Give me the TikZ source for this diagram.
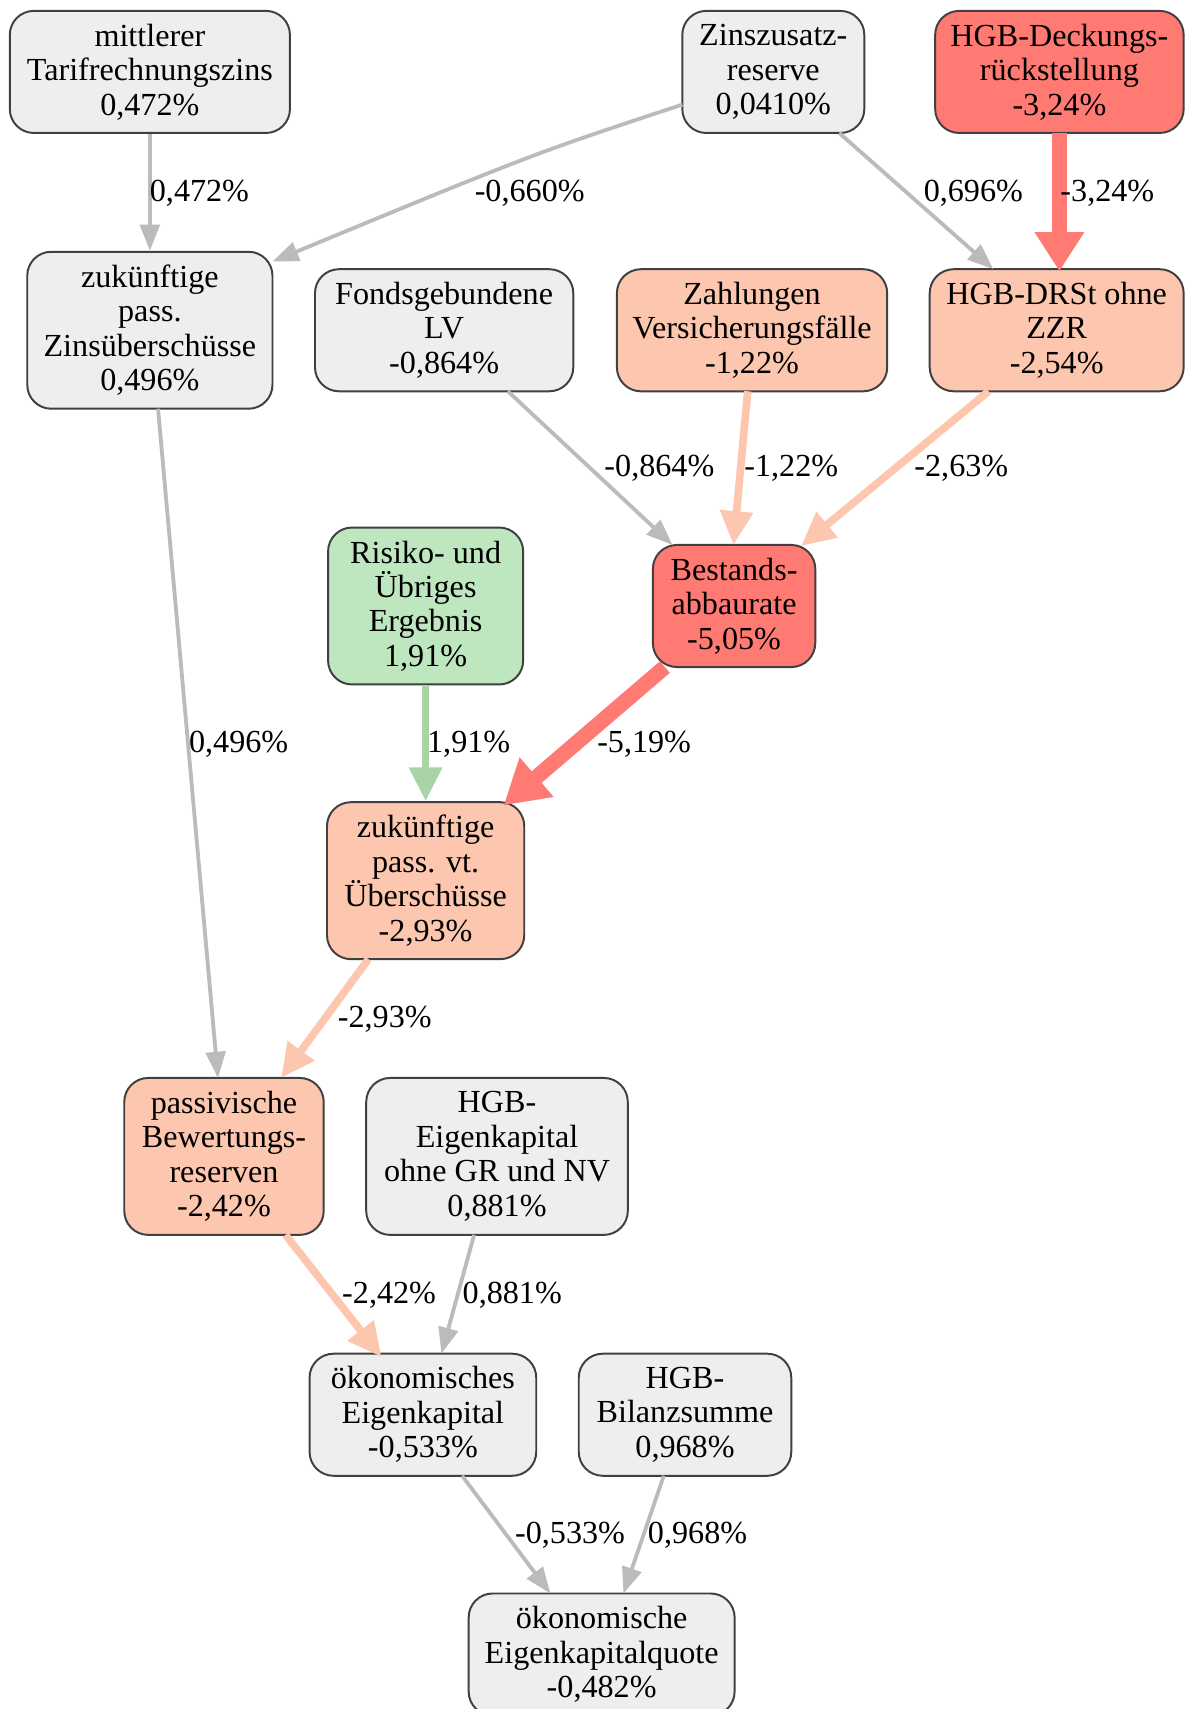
\documentclass[tikz,border=0pt]{standalone}
\usepackage{fontspec}
\setmainfont{Liberation Serif}
\usetikzlibrary{arrows.meta,calc}
\definecolor{ngrey}{RGB}{238,238,238}
\definecolor{nred}{RGB}{255,122,114}
\definecolor{nsalmon}{RGB}{253,198,175}
\definecolor{ngreen}{RGB}{190,230,191}
\definecolor{nborder}{RGB}{64,64,64}
\definecolor{egrey}{RGB}{187,187,187}
\definecolor{ered}{RGB}{255,122,114}
\definecolor{esalmon}{RGB}{253,198,175}
\definecolor{egreen}{RGB}{168,212,168}
\begin{document}
\begin{tikzpicture}[x=1pt,y=-1pt,
  box/.style={draw=nborder,line width=1.8pt,rounded corners=22pt,align=center,inner sep=0pt,
    font=\fontsize{29.5}{31.6}\selectfont},
  gbox/.style={box,fill=ngrey},
  rbox/.style={box,fill=nred},
  sbox/.style={box,fill=nsalmon},
  grbox/.style={box,fill=ngreen},
  lab/.style={inner sep=0pt,font=\fontsize{29.5}{31.6}\selectfont},
  eg/.style={draw=egrey,line width=3.5pt,-{Triangle[width=18pt,length=24pt]}},
  es/.style={draw=esalmon,line width=7pt,-{Triangle[width=29pt,length=31pt]}},
  egr/.style={draw=egreen,line width=7pt,-{Triangle[width=29pt,length=31pt]}},
  er/.style={draw=ered,line width=13pt,-{Triangle[width=43pt,length=36pt]}},
  erx/.style={draw=ered,line width=14pt,-{Triangle[width=45pt,length=40pt]}},
]
\useasboundingbox (0,0) rectangle (1088,1568);
\clip (0,0) rectangle (1088,1568);
\fill[white] (0,0) rectangle (1088,1568);

% nodes
\node[gbox,minimum width=257pt,minimum height=112pt] (mtz) at (137.5,66) {mittlerer\\Tarifrechnungszins\\0,472\%};
\node[gbox,minimum width=167pt,minimum height=112pt] (zzr) at (709.5,66) {Zinszusatz-\\reserve\\0,0410\%};
\node[rbox,minimum width=228pt,minimum height=112pt] (drst) at (972,66) {HGB-Deckungs-\\rückstellung\\-3,24\%};
\node[gbox,minimum width=225pt,minimum height=144pt] (zpz) at (137.5,303) {zukünftige\\pass.\\Zinsüberschüsse\\0,496\%};
\node[gbox,minimum width=237pt,minimum height=112pt] (flv) at (407.5,303) {Fondsgebundene\\LV\\-0,864\%};
\node[sbox,minimum width=248pt,minimum height=112pt] (zvf) at (690,303) {Zahlungen\\Versicherungsfälle\\-1,22\%};
\node[sbox,minimum width=233pt,minimum height=112pt] (drso) at (969.5,303) {HGB-DRSt ohne\\ZZR\\-2,54\%};
\node[grbox,minimum width=179pt,minimum height=144pt] (rue) at (390.5,556) {Risiko- und\\Übriges\\Ergebnis\\1,91\%};
\node[rbox,minimum width=149pt,minimum height=112pt] (bar) at (673.5,556) {Bestands-\\abbaurate\\-5,05\%};
\node[sbox,minimum width=181pt,minimum height=144pt] (zvu) at (390.5,808) {zukünftige\\pass. vt.\\Überschüsse\\-2,93\%};
\node[sbox,minimum width=183pt,minimum height=144pt] (pbr) at (205.5,1061) {passivische\\Bewertungs-\\reserven\\-2,42\%};
\node[gbox,minimum width=240pt,minimum height=144pt] (hek) at (456,1061) {HGB-\\Eigenkapital\\ohne GR und NV\\0,881\%};
\node[gbox,minimum width=208pt,minimum height=112pt] (oek) at (388,1298) {ökonomisches\\Eigenkapital\\-0,533\%};
\node[gbox,minimum width=195pt,minimum height=112pt] (hbs) at (628.5,1298) {HGB-\\Bilanzsumme\\0,968\%};
\node[gbox,minimum width=244pt,minimum height=112pt] (oekq) at (552,1518) {ökonomische\\Eigenkapitalquote\\-0,482\%};

% edges
\draw[eg] (mtz.south) -- (zpz.north);
\draw[eg] ($(zzr.center)+(-83.5,30)$) .. controls ($(zzr.center)+(-220,75)$) .. ($(zpz.center)+(112.5,-63)$);
\draw[eg] ($(zzr.center)+(60.5,56)$) -- ($(drso.center)+(-58,-56)$);
\draw[er] ($(drst.center)+(0,56)$) -- ($(drst.center)+(0,183)$);
\draw[eg] ($(zpz.center)+(7.5,72)$) -- ($(pbr.center)+(-5.5,-72)$);
\draw[eg] ($(flv.center)+(58.5,56)$) -- ($(bar.center)+(-56.5,-56)$);
\draw[es] ($(zvf.center)+(-4,56)$) -- ($(bar.center)+(-0.5,-56)$);
\draw[es] ($(drso.center)+(-62.5,56)$) -- ($(bar.center)+(61.5,-55)$);
\draw[egr] (rue.south) -- (zvu.north);
\draw[erx] ($(bar.center)+(-63.5,56)$) -- ($(zvu.center)+(71.5,-69)$);
\draw[es] ($(zvu.center)+(-52.5,72)$) -- ($(pbr.center)+(52.5,-72)$);
\draw[es] ($(pbr.center)+(56.5,72)$) -- ($(oek.center)+(-38,-53)$);
\draw[eg] ($(hek.center)+(-21,72)$) -- ($(oek.center)+(17,-56)$);
\draw[eg] ($(oek.center)+(36,56)$) -- ($(oekq.center)+(-47,-56)$);
\draw[eg] ($(hbs.center)+(-19.5,56)$) -- ($(oekq.center)+(20,-56)$);

% edge labels
\node[lab] (l1) at (183,177) {0,472\%};
\node[lab] (l2) at (486,177) {-0,660\%};
\node[lab] (l3) at (893,177) {0,696\%};
\node[lab] (l4) at (1016,177) {-3,24\%};
\node[lab] (l5) at (219,683) {0,496\%};
\node[lab] (l6) at (605,430) {-0,864\%};
\node[lab] (l7) at (726,430) {-1,22\%};
\node[lab] (l8) at (882,430) {-2,63\%};
\node[lab] (l9) at (430,683) {1,91\%};
\node[lab] (l10) at (591,683) {-5,19\%};
\node[lab] (l11) at (353,935) {-2,93\%};
\node[lab] (l12) at (357,1188) {-2,42\%};
\node[lab] (l13) at (470,1188) {0,881\%};
\node[lab] (l14) at (523,1409) {-0,533\%};
\node[lab] (l15) at (640,1409) {0,968\%};
\end{tikzpicture}
\end{document}
